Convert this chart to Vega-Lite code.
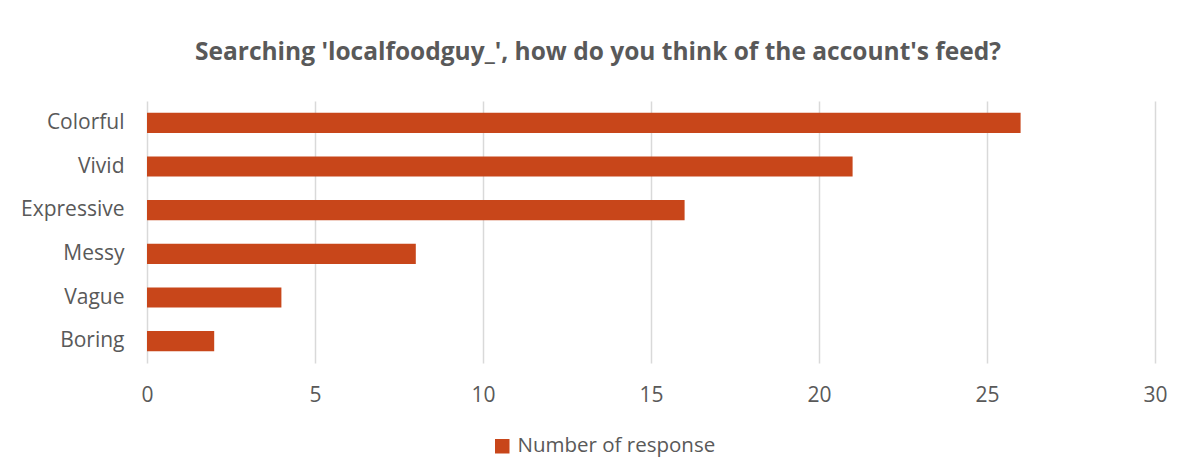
{
  "$schema": "https://vega.github.io/schema/vega-lite/v6.json",
  "width": 1008,
  "height": 262,
  "autosize": {"type": "none"},
  "padding": {"left": 147, "top": 101, "right": 35, "bottom": 112},
  "background": "white",
  "config": {
    "font": "Open Sans",
    "view": {"stroke": null}
  },
  "title": {
    "text": "Searching 'localfoodguy_', how do you think of the account's feed?",
    "font": "Open Sans",
    "fontSize": 24.5,
    "fontWeight": "bold",
    "color": "#595959",
    "anchor": "middle",
    "dx": -53,
    "offset": 36
  },
  "data": {
    "values": [
      {"answer": "Colorful", "count": 26, "series": "Number of response"},
      {"answer": "Vivid", "count": 21, "series": "Number of response"},
      {"answer": "Expressive", "count": 16, "series": "Number of response"},
      {"answer": "Messy", "count": 8, "series": "Number of response"},
      {"answer": "Vague", "count": 4, "series": "Number of response"},
      {"answer": "Boring", "count": 2, "series": "Number of response"}
    ]
  },
  "mark": {"type": "bar"},
  "encoding": {
    "y": {
      "field": "answer",
      "type": "nominal",
      "sort": null,
      "title": null,
      "scale": {"paddingInner": 0.54, "paddingOuter": 0.27},
      "axis": {
        "ticks": false,
        "domain": false,
        "labelFont": "Open Sans",
        "labelFontSize": 21,
        "labelColor": "#595959",
        "labelPadding": 23
      }
    },
    "x": {
      "field": "count",
      "type": "quantitative",
      "title": null,
      "scale": {"domain": [0, 30], "nice": false},
      "axis": {
        "values": [0, 5, 10, 15, 20, 25, 30],
        "ticks": false,
        "domain": false,
        "grid": true,
        "gridColor": "#d9d9d9",
        "gridWidth": 1.5,
        "labelFlush": false,
        "labelFont": "Open Sans",
        "labelFontSize": 21,
        "labelColor": "#595959",
        "labelPadding": 21
      }
    },
    "color": {
      "field": "series",
      "type": "nominal",
      "scale": {"range": ["#C8461A"]},
      "legend": {
        "title": null,
        "orient": "none",
        "legendX": 345,
        "legendY": 335,
        "symbolType": "square",
        "symbolSize": 210,
        "symbolStrokeWidth": 0,
        "labelFont": "Open Sans",
        "labelFontSize": 20.5,
        "labelColor": "#595959",
        "labelLimit": 400,
        "labelOffset": 5
      }
    }
  }
}
